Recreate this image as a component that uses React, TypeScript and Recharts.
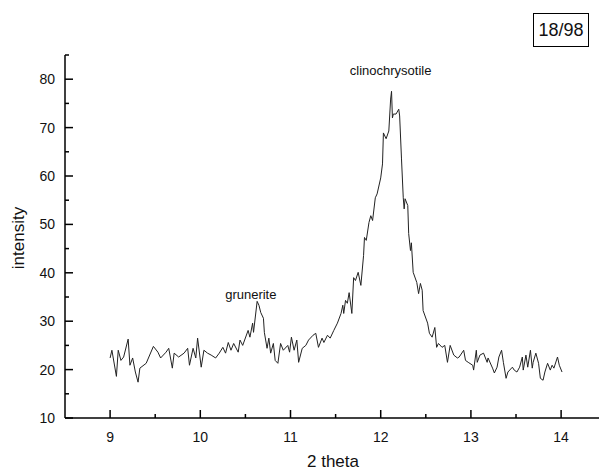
import React from "react";
import { LineChart, Line, XAxis, YAxis, ReferenceDot, Label } from "recharts";

const theta = [
  9.0, 9.02, 9.07, 9.09, 9.12, 9.15, 9.2, 9.22, 9.25, 9.28, 9.31, 9.33, 9.4, 9.48, 9.53, 9.56, 9.62, 9.65, 9.69, 9.71,
  9.76, 9.82, 9.86, 9.88, 9.92, 9.95, 9.97, 10.01, 10.04, 10.08, 10.12, 10.17, 10.21, 10.25, 10.28, 10.31, 10.34, 10.37,
  10.42, 10.44, 10.47, 10.53, 10.55, 10.58, 10.59, 10.63, 10.65, 10.67, 10.7, 10.71, 10.74, 10.76, 10.78, 10.81, 10.83,
  10.86, 10.89, 10.92, 10.97, 10.99, 11.01, 11.04, 11.07, 11.09, 11.13, 11.17, 11.2, 11.25, 11.28, 11.31, 11.35, 11.37,
  11.41, 11.44, 11.48, 11.52, 11.56, 11.58, 11.59, 11.61, 11.63, 11.65, 11.68, 11.7, 11.72, 11.75, 11.78, 11.81, 11.82,
  11.84, 11.87, 11.89, 11.91, 11.94, 11.96, 12.0, 12.02, 12.03, 12.06, 12.09, 12.11, 12.12, 12.13, 12.14, 12.17, 12.2,
  12.21, 12.23, 12.25, 12.26, 12.27, 12.3, 12.31, 12.33, 12.34, 12.36, 12.4, 12.42, 12.44, 12.46, 12.47, 12.52, 12.54,
  12.57, 12.6, 12.62, 12.64, 12.68, 12.71, 12.74, 12.77, 12.81, 12.85, 12.87, 12.92, 12.94, 12.97, 13.02, 13.03, 13.06,
  13.07, 13.1, 13.14, 13.18, 13.19, 13.24, 13.26, 13.29, 13.31, 13.34, 13.36, 13.39, 13.41, 13.46, 13.48, 13.51, 13.54,
  13.57, 13.58, 13.61, 13.63, 13.66, 13.68, 13.69, 13.72, 13.75, 13.77, 13.8, 13.82, 13.85, 13.88, 13.9, 13.92, 13.96,
  13.98, 14.01,
];

const intensity = [
  22.4, 24.0, 18.6, 24.0, 21.9, 22.6, 26.3, 20.9, 22.4, 19.5, 17.4, 20.3, 21.3, 24.8, 23.6, 22.4, 23.6, 24.4, 20.3, 23.4,
  22.6, 23.4, 24.4, 20.9, 24.4, 22.4, 26.5, 20.5, 24.0, 23.4, 23.0, 22.4, 23.4, 24.6, 23.4, 25.6, 24.0, 25.4,
  23.6, 26.1, 25.0, 28.1, 26.7, 29.6, 27.7, 34.1, 33.3, 31.8, 30.6, 27.7, 24.4, 26.5, 23.4, 25.4, 21.9,
  21.3, 25.4, 24.0, 25.0, 23.6, 26.7, 24.0, 26.1, 21.5, 24.4, 25.0, 26.1, 27.1, 27.5, 24.6, 26.5, 25.6,
  27.1, 26.5, 28.1, 29.6, 31.6, 33.3, 31.6, 34.3, 33.7, 35.9, 31.6, 39.0, 38.4, 40.1, 37.4, 43.6, 47.3,
  46.7, 50.4, 51.8, 50.8, 55.5, 56.3, 59.6, 62.5, 68.9, 67.7, 69.3, 75.9, 77.5, 72.0, 72.8, 72.8, 73.8,
  72.4, 63.7, 55.5, 53.2, 55.3, 53.9, 48.1, 44.6, 46.2, 40.1, 38.0, 35.7, 37.8, 36.4, 32.2, 29.6, 27.5,
  26.7, 28.7, 24.6, 25.4, 24.6, 25.0, 21.5, 25.0, 23.0, 22.4, 22.6, 24.0, 21.9, 21.5, 20.9, 19.9, 24.0,
  21.5, 23.0, 23.4, 21.5, 22.4, 20.3, 19.3, 20.5, 22.6, 24.0, 21.5, 18.2, 19.5, 20.5, 19.9, 19.5, 20.5,
  22.6, 19.9, 23.0, 20.5, 24.0, 20.3, 21.5, 23.4, 21.3, 18.2, 17.8, 19.5, 21.3, 19.9, 20.9, 20.3, 22.6,
  20.9, 19.5,
];

const xTicks = [9, 9.5, 10, 10.5, 11, 11.5, 12, 12.5, 13, 13.5, 14];
const yTicks = [10, 15, 20, 25, 30, 35, 40, 45, 50, 55, 60, 65, 70, 75, 80, 85];

const peaks = [
  { name: "grunerite", x: 10.56, y: 35.6 },
  { name: "clinochrysotile", x: 12.11, y: 81.8 },
];

const data = theta.map((t, i) => ({ x: t, y: intensity[i] }));

const font = "'Liberation Sans', Arial, sans-serif";

function XTick(props: any) {
  const { x, y, payload } = props;
  const major = Number.isInteger(payload.value);
  return (
    <g>
      <line x1={x} y1={y} x2={x} y2={y - (major ? 8 : 4)} stroke="#000" strokeWidth={1.5} />
      {major && (
        <text x={x} y={y + 24} textAnchor="middle" fontSize={14} fontFamily={font} fill="#111">
          {payload.value}
        </text>
      )}
    </g>
  );
}

function YTick(props: any) {
  const { x, y, payload } = props;
  const major = payload.value % 10 === 0;
  return (
    <g>
      <line x1={x} y1={y} x2={x + (major ? 8 : 4)} y2={y} stroke="#000" strokeWidth={1.5} />
      {major && (
        <text x={x - 10} y={y + 5} textAnchor="end" fontSize={14} fontFamily={font} fill="#111">
          {payload.value}
        </text>
      )}
    </g>
  );
}

export default function App() {
  return (
    <div style={{ position: "absolute", left: 0, top: 0, width: 599, height: 470, background: "#fff" }}>
      <LineChart width={599} height={470} data={data} margin={{ top: 55, right: 0, bottom: 0, left: 0 }}>
        <XAxis
          type="number"
          dataKey="x"
          domain={[8.5, 14.42]}
          ticks={xTicks}
          allowDataOverflow
          height={52}
          tickSize={0}
          tickMargin={0}
          tick={<XTick />}
          axisLine={{ stroke: "#000", strokeWidth: 1.5 }}
        >
          <Label
            content={() => (
              <text x={333} y={467} textAnchor="middle" fontSize={17} fontFamily={font} fill="#111">
                2 theta
              </text>
            )}
          />
        </XAxis>
        <YAxis
          type="number"
          domain={[10, 85]}
          ticks={yTicks}
          allowDataOverflow
          width={65}
          tickSize={0}
          tickMargin={0}
          tick={<YTick />}
          axisLine={{ stroke: "#000", strokeWidth: 1.5 }}
        >
          <Label
            content={() => (
              <text
                x={24}
                y={238}
                transform="rotate(-90 24 238)"
                textAnchor="middle"
                fontSize={17}
                fontFamily={font}
                fill="#111"
              >
                intensity
              </text>
            )}
          />
        </YAxis>
        <Line
          type="linear"
          dataKey="y"
          stroke="#222"
          strokeWidth={1}
          dot={false}
          isAnimationActive={false}
        />
        {peaks.map((p) => (
          <ReferenceDot key={p.name} x={p.x} y={p.y} r={0} fill="none" stroke="none">
            <Label value={p.name} position="center" fontSize={13} fontFamily={font} fill="#111" />
          </ReferenceDot>
        ))}
      </LineChart>
      <div
        style={{
          position: "absolute",
          left: 533,
          top: 13,
          width: 54,
          height: 32,
          border: "1px solid #000",
          fontFamily: font,
          fontSize: 18,
          lineHeight: "32px",
          textAlign: "center",
          color: "#111",
        }}
      >
        18/98
      </div>
    </div>
  );
}
